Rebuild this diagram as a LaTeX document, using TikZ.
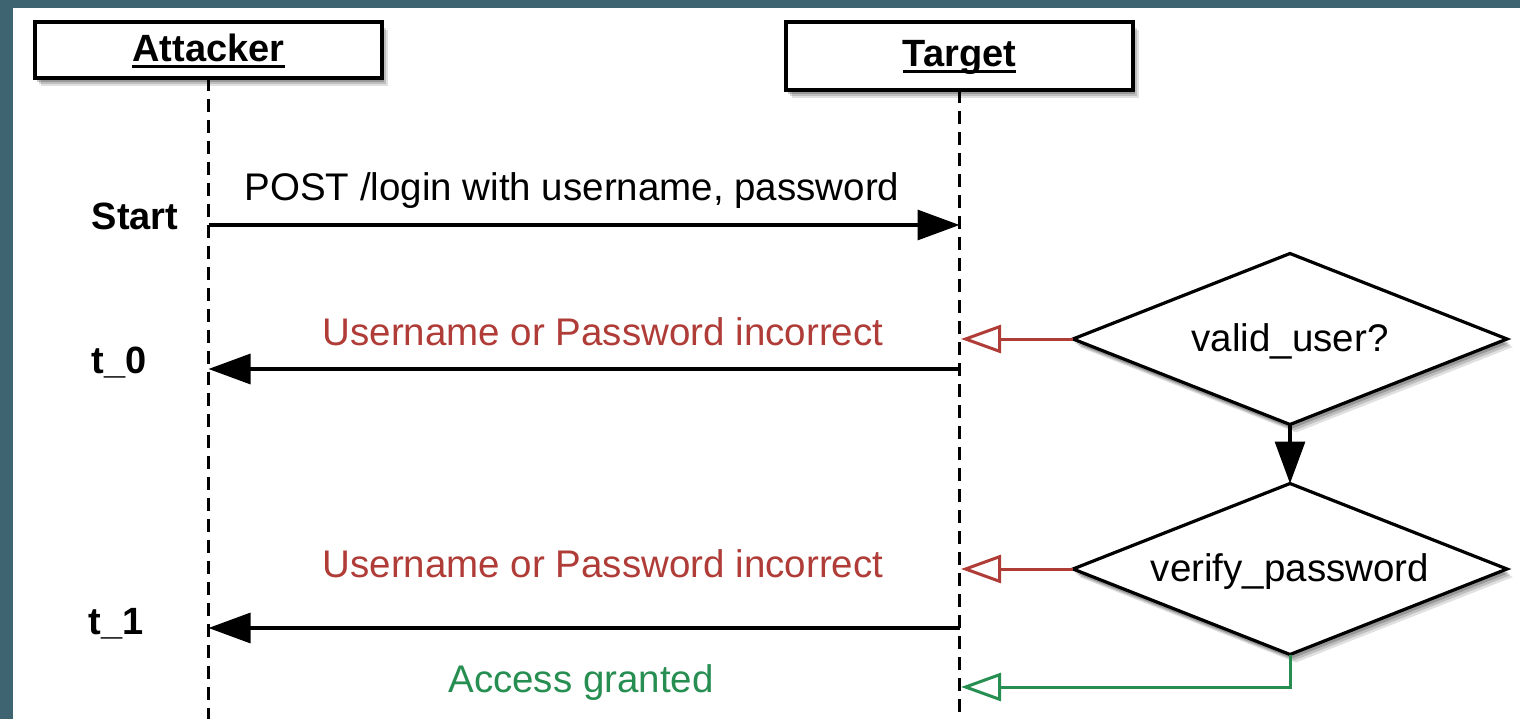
\documentclass[tikz,border=0pt]{standalone}
\usepackage{fontspec}
\setmainfont{Liberation Sans}
\usetikzlibrary{arrows.meta,shapes.geometric,shadows}
\definecolor{bgteal}{RGB}{62,99,113}
\definecolor{msgred}{RGB}{176,60,56}
\definecolor{msggreen}{RGB}{38,142,80}
\newlength\ulwidth
\newcommand\ulabel[1]{\settowidth\ulwidth{#1}\rlap{#1}\rule[-6pt]{\ulwidth}{2.5pt}}
\begin{document}
\begin{tikzpicture}[x=1pt,y=-1pt,
  font=\fontsize{38.5}{44}\selectfont,
  shad/.style={
    drop shadow={fill=black,opacity=0.12,shadow xshift=6pt,shadow yshift=-8pt},
    drop shadow={fill=black,opacity=0.15,shadow xshift=4pt,shadow yshift=-6pt},
    drop shadow={fill=black,opacity=0.2,shadow xshift=2pt,shadow yshift=-4pt}},
  actor/.style={draw,line width=3.2pt,fill=white,shad,inner sep=0pt,outer sep=0pt,minimum width=347pt,font=\fontsize{38}{44}\selectfont\bfseries},
  lifeline/.style={line width=2.8pt,dash pattern=on 13pt off 8pt},
  decision/.style={diamond,aspect=2.54,draw,line width=3.2pt,fill=white,shad,inner sep=0pt,outer sep=0pt,minimum width=434pt,minimum height=171pt,text height=24pt,text depth=0pt},
  lbl/.style={anchor=base,inner sep=0pt},
  timelbl/.style={lbl,font=\fontsize{38}{44}\selectfont\bfseries},
  msg/.style={line width=3.2pt,-{Triangle[length=42pt,width=30pt]}},
  reply/.style={line width=3pt,-{Triangle[open,length=40pt,width=28pt]}},
]
\useasboundingbox (0,0) rectangle (1520,719);
\fill[bgteal] (0,0) rectangle (1520,719);
\fill[white] (13,8) rectangle (1520,719);

% actors
\node[actor,minimum height=56pt,text height=24pt,text depth=0pt] (attacker) at (208.5,50) {\ulabel{Attacker}};
\node[actor,minimum height=68pt,text height=22pt,text depth=0pt] (target) at (959.5,56) {\ulabel{Target}};

% lifeline ends and message points
\coordinate (aEnd) at (208.5,719);
\coordinate (tEnd) at (959.5,719);
\coordinate (aS) at (208.5,225);
\coordinate (tS) at (959.5,225);
\coordinate (t0t) at (959.5,369);
\coordinate (t0a) at (208.5,369);
\coordinate (t1t) at (959.5,628);
\coordinate (t1a) at (208.5,628);
\coordinate (r0) at (961,339);
\coordinate (r1) at (961,569);
\coordinate (gr) at (961,687);

\draw[lifeline] (attacker.south) -- (aEnd);
\draw[lifeline] (target.south) -- (tEnd);

% decisions
\node[decision] (valid) at (1290,339) {valid\_user?};
\node[decision] (verify) at (1290,569) {verify\_password};

% messages
\draw[msg] (aS) -- (tS);
\draw[msg] (t0t) -- (t0a);
\draw[msg] (t1t) -- (t1a);
\draw[msg] (valid.south) -- (verify.north);
\draw[reply,msgred] (valid.west) -- (r0);
\draw[reply,msgred] (verify.west) -- (r1);
\draw[reply,msggreen] (verify.south) |- (gr);

% labels
\node[lbl] (lpost) at (572,201) {POST /login with username, password};
\node[lbl,text=msgred] (lu0) at (603,345) {Username or Password incorrect};
\node[lbl,text=msgred] (lu1) at (603,577) {Username or Password incorrect};
\node[lbl,text=msggreen] (lag) at (581,692) {Access granted};
\node[timelbl] (lstart) at (135,230) {Start};
\node[timelbl] (lt0) at (119,373) {t\_0};
\node[timelbl] (lt1) at (116,634) {t\_1};
\end{tikzpicture}
\end{document}
